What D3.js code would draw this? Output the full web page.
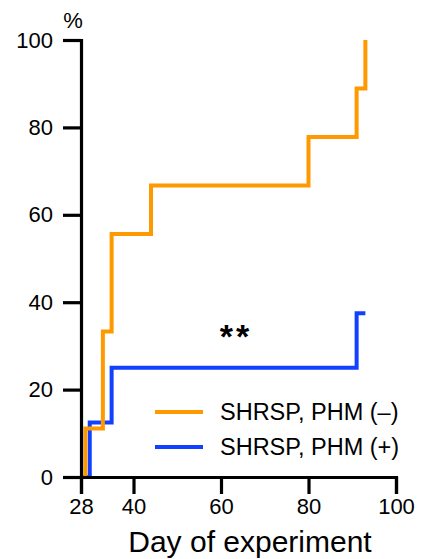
<!DOCTYPE html>
<html>
<head>
<meta charset="utf-8">
<script src="https://cdn.jsdelivr.net/npm/d3@7"></script>
<style>
  body { margin: 0; background: #fff; }
  text { font-family: "Liberation Sans", Arial, Helvetica, sans-serif; fill: #000; }
</style>
</head>
<body>
<div id="chart"></div>
<script>
// data (day, cumulative %)
var orangeDays = [28, 29, 33, 35, 44, 80, 91, 93];
var orangeValues = [0, 11.1, 33.3, 55.6, 66.7, 77.8, 88.9, 100];
var blueDays = [28, 30, 35, 91, 93];
var blueValues = [0, 12.5, 25, 37.5, 37.5];
var xTicks = [28, 40, 60, 80, 100];
var yTicks = [0, 20, 40, 60, 80, 100];
var seriesNames = ["SHRSP, PHM (\u2013)", "SHRSP, PHM (+)"];
var colors = ["#ff9900", "#1240ff"];

var svgWidth = 422;
var svgHeight = 559;
var margin = { top: 40, left: 81, right: 26, bottom: 82 };
var width = svgWidth - margin.left - margin.right;
var height = svgHeight - margin.top - margin.bottom;

var svg = d3.select("#chart")
  .append("svg")
  .attr("width", svgWidth)
  .attr("height", svgHeight);

var chartGroup = svg.append("g")
  .attr("transform", `translate(${margin.left}, ${margin.top})`);

var x = d3.scaleLinear().domain([28, 100]).range([0, width]);
var y = d3.scaleLinear().domain([0, 100]).range([height, 0]);

var line = d3.line()
  .x(d => x(d[0]))
  .y(d => y(d[1]))
  .curve(d3.curveStepAfter);

var blue = blueDays.map((d, i) => [d, blueValues[i]]);
var orange = orangeDays.map((d, i) => [d, orangeValues[i]]);

chartGroup.append("path")
  .datum(blue)
  .attr("d", line)
  .attr("fill", "none")
  .attr("stroke", colors[1])
  .attr("stroke-width", 4);

chartGroup.append("path")
  .datum(orange)
  .attr("d", line)
  .attr("fill", "none")
  .attr("stroke", colors[0])
  .attr("stroke-width", 4);

// axes
var xAxis = d3.axisBottom(x).tickValues(xTicks).tickSize(17).tickSizeOuter(17).tickPadding(4);
var yAxis = d3.axisLeft(y).tickValues(yTicks).tickSize(18).tickSizeOuter(18).tickPadding(10);

var gx = chartGroup.append("g")
  .attr("transform", `translate(0, ${height})`)
  .call(xAxis);
var gy = chartGroup.append("g").call(yAxis);

[gx, gy].forEach(function(g) {
  g.selectAll("path, line").attr("stroke", "#000").attr("stroke-width", 3.2);
  g.selectAll("text")
    .style("font-family", '"Liberation Sans", Arial, sans-serif')
    .style("font-size", "22px")
    .attr("fill", "#000");
});

// labels
chartGroup.append("text")
  .attr("x", -8)
  .attr("y", -12)
  .attr("text-anchor", "middle")
  .style("font-size", "22px")
  .text("%");

chartGroup.append("text")
  .attr("x", 169)
  .attr("y", height + 75)
  .attr("text-anchor", "middle")
  .style("font-size", "30px")
  .text("Day of experiment");

chartGroup.append("text")
  .attr("x", x(60) + 15)
  .attr("y", y(25) - 20)
  .attr("text-anchor", "middle")
  .style("font-size", "34px")
  .style("font-weight", "bold")
  .style("letter-spacing", "3px")
  .text("**");

// legend
var legend = chartGroup.selectAll(".legend")
  .data(seriesNames)
  .enter()
  .append("g")
  .attr("transform", (d, i) => `translate(74, ${372 + i * 35})`);

legend.append("line")
  .attr("x1", 0).attr("x2", 48)
  .attr("y1", 0).attr("y2", 0)
  .attr("stroke", (d, i) => colors[i])
  .attr("stroke-width", 4);

legend.append("text")
  .attr("x", 65)
  .attr("y", 8)
  .style("font-size", "23.5px")
  .text(d => d);
</script>
</body>
</html>
